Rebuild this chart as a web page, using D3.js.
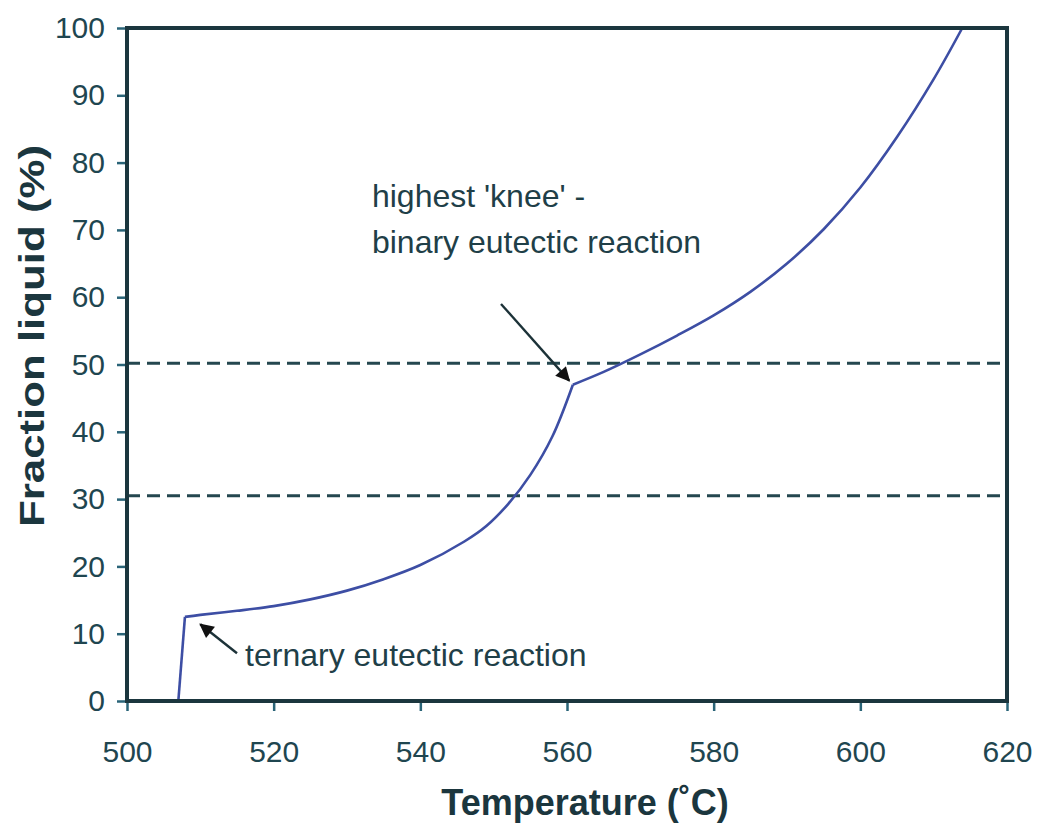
<!DOCTYPE html>
<html>
<head>
<meta charset="utf-8">
<script src="https://cdn.jsdelivr.net/npm/d3@7"></script>
<style>
  html, body { margin: 0; padding: 0; background: #fff; }
  text { font-family: "Liberation Sans", Arial, Helvetica, sans-serif; }
</style>
</head>
<body>
<div id="chart"></div>
<script>
// --- data (temperature in C, fraction liquid in %) ---
const jumpBranch = [[507.0, 0], [507.9, 12.5]]
const lowerBranch = [
  [507.9, 12.5], [510, 12.8], [515, 13.4], [520, 14.1], [525, 15.1],
  [530, 16.4], [535, 18.1], [540, 20.2], [546, 23.7], [549, 26.0],
  [552, 29.3], [555, 33.6], [558, 39.3], [560.8, 47.0]
]
const upperBranch = [
  [560.8, 47.0], [565, 48.9], [570, 51.5], [575, 54.3], [580, 57.3],
  [585, 60.8], [590, 65.0], [595, 70.1], [600, 76.3], [605, 83.8],
  [610, 92.4], [613.9, 100]
]
const dashedLevels = [30.5, 50.2]
const xTicks = [500, 520, 540, 560, 580, 600, 620]
const yTicks = [0, 10, 20, 30, 40, 50, 60, 70, 80, 90, 100]

// annotations: text lines and arrows (tail -> tip) in data units
const notes = [
  { text: "ternary eutectic reaction", x: 516.1, y: 5.2 },
  { text: "highest 'knee' -", x: 533.4, y: 73.4 },
  { text: "binary eutectic reaction", x: 533.4, y: 66.6 }
]
const arrows = [
  { from: [515.0, 7.1], to: [510.0, 11.4] },
  { from: [551.0, 59.0], to: [560.3, 47.6] }
]

const width = 1049, height = 832
const plot = { left: 127, right: 1007, top: 28, bottom: 701 }
const ink = '#1b363e'

const svg = d3.select('#chart')
  .append('svg')
  .attr('width', width)
  .attr('height', height)

const x = d3.scaleLinear().domain([500, 620]).range([plot.left, plot.right])
const y = d3.scaleLinear().domain([0, 100]).range([plot.bottom, plot.top])

svg.append('defs')
  .append('marker')
  .attr('id', 'head')
  .attr('viewBox', '0 0 10 10')
  .attr('refX', 9)
  .attr('refY', 5)
  .attr('markerWidth', 7)
  .attr('markerHeight', 6)
  .attr('markerUnits', 'strokeWidth')
  .attr('orient', 'auto')
  .append('path')
  .attr('d', 'M0,0 L10,5 L0,10 z')
  .attr('fill', '#111')

// axes (ticks outward, labels)
const xAxis = svg.append('g')
  .attr('transform', `translate(0, ${plot.bottom})`)
  .call(d3.axisBottom(x).tickValues(xTicks).tickSize(10).tickPadding(40))
const yAxis = svg.append('g')
  .attr('transform', `translate(${plot.left}, 0)`)
  .call(d3.axisLeft(y).tickValues(yTicks).tickSize(10).tickPadding(12))

for (const ax of [xAxis, yAxis]) {
  ax.select('.domain').remove()
  ax.selectAll('line').attr('stroke', '#2a6478').attr('stroke-width', 2.5)
  ax.selectAll('text')
    .attr('fill', '#1f4650')
    .style('font-size', '30px')
    .style('font-family', '"Liberation Sans", Arial, sans-serif')
}
xAxis.selectAll('text').attr('dy', '0.35em')

// dashed reference levels
svg.append('g')
  .selectAll('line')
  .data(dashedLevels)
  .enter()
  .append('line')
  .attr('x1', plot.left)
  .attr('x2', plot.right)
  .attr('y1', d => y(d))
  .attr('y2', d => y(d))
  .attr('stroke', '#24474f')
  .attr('stroke-width', 3)
  .attr('stroke-dasharray', '13,7')

// the melting curve, three pieces so the corners stay sharp
const straight = d3.line().x(d => x(d[0])).y(d => y(d[1]))
const smooth = d3.line().x(d => x(d[0])).y(d => y(d[1])).curve(d3.curveCatmullRom.alpha(0.5))

const curve = svg.append('g')
  .attr('fill', 'none')
  .attr('stroke', '#3d4ea4')
  .attr('stroke-width', 2.6)
  .attr('stroke-linejoin', 'round')
curve.append('path').datum(jumpBranch).attr('d', straight)
curve.append('path').datum(lowerBranch).attr('d', smooth)
curve.append('path').datum(upperBranch).attr('d', smooth)

// frame
svg.append('rect')
  .attr('x', plot.left)
  .attr('y', plot.top)
  .attr('width', plot.right - plot.left)
  .attr('height', plot.bottom - plot.top)
  .attr('fill', 'none')
  .attr('stroke', ink)
  .attr('stroke-width', 4)

// arrows
svg.append('g')
  .selectAll('line')
  .data(arrows)
  .enter()
  .append('line')
  .attr('x1', d => x(d.from[0]))
  .attr('y1', d => y(d.from[1]))
  .attr('x2', d => x(d.to[0]))
  .attr('y2', d => y(d.to[1]))
  .attr('stroke', '#1c3238')
  .attr('stroke-width', 2.4)
  .attr('marker-end', 'url(#head)')

// annotation text
svg.append('g')
  .selectAll('text')
  .data(notes)
  .enter()
  .append('text')
  .attr('x', d => x(d.x))
  .attr('y', d => y(d.y))
  .attr('fill', '#1f3f48')
  .style('font-size', '32px')
  .text(d => d.text)

// axis titles
svg.append('text')
  .attr('x', 585)
  .attr('y', 815)
  .attr('text-anchor', 'middle')
  .attr('fill', ink)
  .style('font-size', '36px')
  .style('font-weight', 'bold')
  .text('Temperature (˚C)')

svg.append('text')
  .attr('transform', 'translate(44, 336) rotate(-90)')
  .attr('text-anchor', 'middle')
  .attr('fill', ink)
  .attr('textLength', 382)
  .attr('lengthAdjust', 'spacingAndGlyphs')
  .style('font-size', '35px')
  .style('font-weight', 'bold')
  .text('Fraction liquid (%)')
</script>
</body>
</html>
